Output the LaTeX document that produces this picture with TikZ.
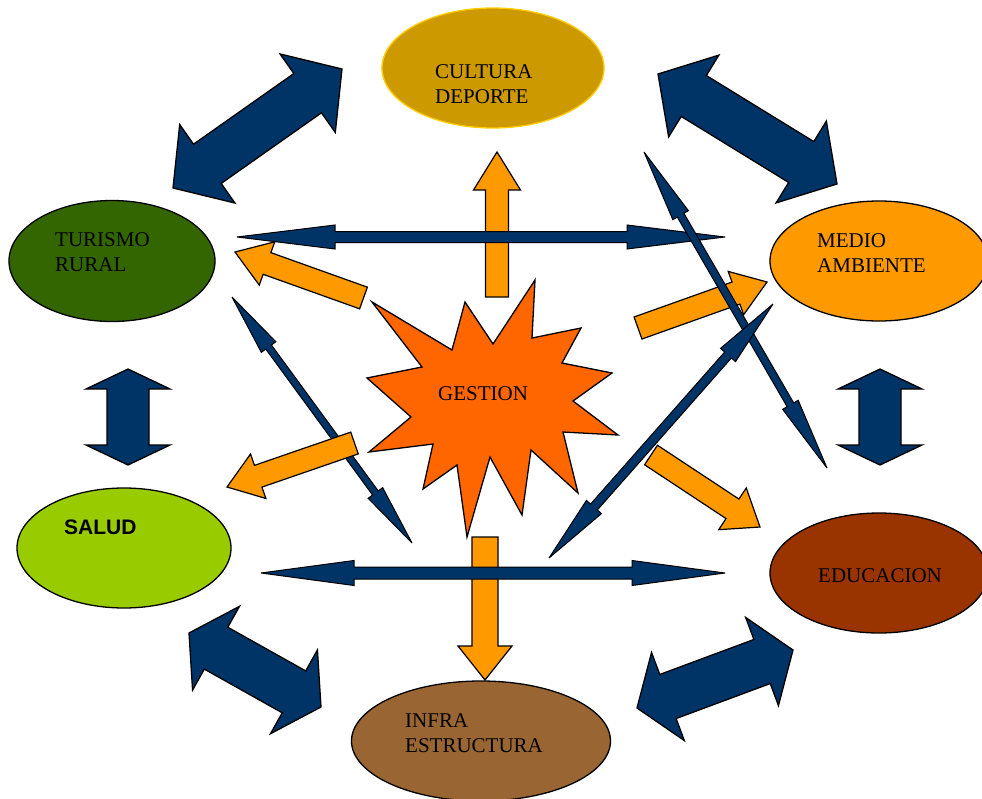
\documentclass[tikz,border=0pt]{standalone}
\usepackage{fontspec}
\setmainfont{Liberation Serif}
\newfontfamily\salfont{Liberation Sans}
\usetikzlibrary{calc,shapes.geometric}

\definecolor{navy}{HTML}{003366}
\definecolor{arrorange}{HTML}{FF9900}
\definecolor{starfill}{HTML}{FF6600}
\definecolor{cultfill}{HTML}{CC9900}
\definecolor{cultline}{HTML}{FFCC00}
\definecolor{turfill}{HTML}{336600}
\definecolor{medfill}{HTML}{FF9900}
\definecolor{salfill}{HTML}{99CC00}
\definecolor{edufill}{HTML}{993300}
\definecolor{infrafill}{HTML}{996633}

\tikzset{
  bubble/.style={ellipse, draw=black, line width=1.3pt, inner sep=0pt},
  txt/.style={anchor=north west, inner sep=0pt, align=left, font=\fontsize{21}{25}\selectfont},
  bignavy/.style={fill=navy, draw=black, line width=1.3pt},
  thinnavy/.style={fill=navy, draw=black, line width=1pt, miter limit=5},
  orangearrow/.style={fill=arrorange, draw=black, line width=1.2pt},
}

% double block arrow: style, end, end, shaft half width, head half width, head length
\newcommand{\dblarrow}[6]{%
  \draw[#1] (#2)
    -- ($(#2)!#6!(#3)!#5!90:(#3)$)
    -- ($(#2)!#6!(#3)!#4!90:(#3)$)
    -- ($(#3)!#6!(#2)!#4!-90:(#2)$)
    -- ($(#3)!#6!(#2)!#5!-90:(#2)$)
    -- (#3)
    -- ($(#3)!#6!(#2)!#5!90:(#2)$)
    -- ($(#3)!#6!(#2)!#4!90:(#2)$)
    -- ($(#2)!#6!(#3)!#4!-90:(#3)$)
    -- ($(#2)!#6!(#3)!#5!-90:(#3)$)
    -- cycle;}
% single block arrow: style, tail, tip, shaft half width, head half width, head length
\newcommand{\onearrow}[6]{%
  \draw[#1] ($(#2)!#4!90:(#3)$)
    -- ($(#3)!#6!(#2)!#4!-90:(#2)$)
    -- ($(#3)!#6!(#2)!#5!-90:(#2)$)
    -- (#3)
    -- ($(#3)!#6!(#2)!#5!90:(#2)$)
    -- ($(#3)!#6!(#2)!#4!90:(#2)$)
    -- ($(#2)!#4!-90:(#3)$)
    -- cycle;}

\begin{document}
\begin{tikzpicture}[x=1pt, y=-1pt]
	\useasboundingbox (0,0) rectangle (982,798);

	%Nodes
	\node[bubble, fill=cultfill, draw=cultline, minimum width=222pt, minimum height=120pt] (cultura) at (493,68) {};
	\node[bubble, fill=turfill, minimum width=206pt, minimum height=121pt] (turismo) at (112,261) {};
	\node[bubble, fill=medfill, minimum width=218pt, minimum height=120pt] (medio) at (879,261) {};
	\node[bubble, fill=salfill, minimum width=214pt, minimum height=120pt] (salud) at (124,548) {};
	\node[bubble, fill=edufill, minimum width=218pt, minimum height=120pt] (educacion) at (879,573) {};
	\node[bubble, fill=infrafill, minimum width=259pt, minimum height=120pt] (infra) at (481,741) {};

	\node[txt] (tcultura) at (435,64) {CULTURA\\DEPORTE};
	\node[txt] (tturismo) at (55,232) {TURISMO\\RURAL};
	\node[txt] (tmedio) at (817,233) {MEDIO\\AMBIENTE};
	\node[txt, font=\salfont\bfseries\fontsize{21}{25}\selectfont] (tsalud) at (64,520) {SALUD};
	\node[txt] (teducacion) at (818,568) {EDUCACION};
	\node[txt] (tinfra) at (405,713) {INFRA\\ESTRUCTURA};

	%Star
	\draw[fill=starfill, draw=black, line width=1.3pt]
		(367,378) -- (422,367) -- (372,302) -- (452,350) -- (465,302) -- (493,344)
		-- (535,280) -- (532,338) -- (581,328) -- (562,363) -- (612,373) -- (573,401)
		-- (618,435) -- (563,432) -- (578,493) -- (531,450) -- (522,515) -- (490,457)
		-- (467,537) -- (457,465) -- (423,489) -- (433,444) -- (369,452) -- (411,417) -- cycle;
	\node[txt] (tgestion) at (438,386) {GESTION};

	%Arrow ends
	\coordinate (tl1) at (173,188);   \coordinate (tl2) at (342,69);
	\coordinate (tr1) at (658,74);    \coordinate (tr2) at (837,184);
	\coordinate (bl1) at (189,633);   \coordinate (bl2) at (321,707);
	\coordinate (br1) at (637,708);   \coordinate (br2) at (793,650);
	\coordinate (lv1) at (128,369);   \coordinate (lv2) at (128,465);
	\coordinate (rv1) at (880,369);   \coordinate (rv2) at (880,465);

	\coordinate (th1) at (237,237);   \coordinate (th2) at (725,237);
	\coordinate (bh1) at (261,573);   \coordinate (bh2) at (725,573);
	\coordinate (ld1) at (232,297);   \coordinate (ld2) at (412,543);
	\coordinate (rd1) at (644,152);   \coordinate (rd2) at (827,468);
	\coordinate (ra1) at (549,558);   \coordinate (ra2) at (773,304);

	\coordinate (up1) at (497,297);   \coordinate (up2) at (497,152);
	\coordinate (dn1) at (485,537);   \coordinate (dn2) at (485,680);
	\coordinate (ot1) at (363.5,298); \coordinate (ot2) at (235,252);
	\coordinate (os1) at (354.5,443); \coordinate (os2) at (227,487);
	\coordinate (om1) at (638,328);   \coordinate (om2) at (767,282);
	\coordinate (oe1) at (651,455);   \coordinate (oe2) at (760,527);

	%Big arrows
	\dblarrow{bignavy}{tl1}{tl2}{24pt}{48pt}{42pt}
	\dblarrow{bignavy}{tr1}{tr2}{24pt}{48pt}{42pt}
	\dblarrow{bignavy}{bl1}{bl2}{24pt}{48pt}{31pt}
	\dblarrow{bignavy}{br1}{br2}{23.5pt}{47pt}{33pt}
	\dblarrow{bignavy}{lv1}{lv2}{21pt}{42pt}{20pt}
	\dblarrow{bignavy}{rv1}{rv2}{21pt}{42pt}{20pt}

	%Orange arrows and thin arrows
	\onearrow{orangearrow}{up1}{up2}{11.5pt}{23.5pt}{38pt}
	\onearrow{orangearrow}{dn1}{dn2}{13pt}{27pt}{34pt}
	\dblarrow{thinnavy}{ld1}{ld2}{3.5pt}{9pt}{62pt}
	\onearrow{orangearrow}{os1}{os2}{11.5pt}{23.5pt}{33pt}
	\onearrow{orangearrow}{om1}{om2}{11.7pt}{23pt}{33pt}
	\onearrow{orangearrow}{oe1}{oe2}{11.7pt}{25pt}{33pt}
	\dblarrow{thinnavy}{th1}{th2}{5.5pt}{12pt}{98pt}
	\onearrow{orangearrow}{ot1}{ot2}{11.5pt}{23pt}{34pt}
	\dblarrow{thinnavy}{rd1}{rd2}{3.8pt}{9pt}{73pt}
	\dblarrow{thinnavy}{ra1}{ra2}{4.5pt}{10pt}{68pt}
	\dblarrow{thinnavy}{bh1}{bh2}{6pt}{12.5pt}{93pt}

\end{tikzpicture}
\end{document}
